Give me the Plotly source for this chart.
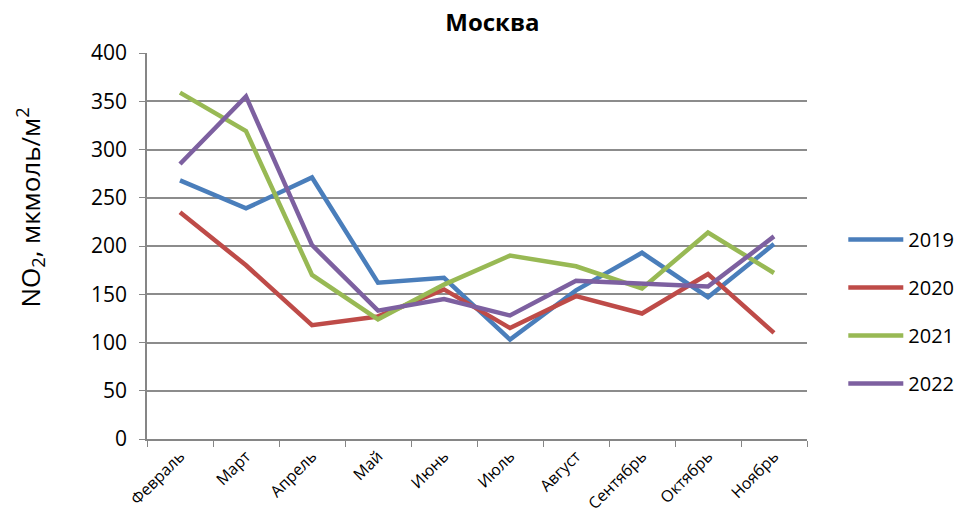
import plotly.graph_objects as go

months = ["Февраль", "Март", "Апрель", "Май", "Июнь", "Июль", "Август", "Сентябрь", "Октябрь", "Ноябрь"]
y2019 = [268, 239, 271, 162, 167, 103, 154, 193, 147, 202]
y2020 = [235, 180, 118, 127, 155, 115, 148, 130, 171, 110]
y2021 = [359, 319, 170, 124, 160, 190, 179, 156, 214, 172]
y2022 = [285, 355, 201, 133, 145, 128, 164, 161, 158, 210]
series_names = ["2019", "2020", "2021", "2022"]
colors = ["#4A7EBB", "#BE4B48", "#98B954", "#7D60A0"]

font_fam = "Open Sans, Liberation Sans, Arial"
fig = go.Figure()
for name, ys, c in zip(series_names, [y2019, y2020, y2021, y2022], colors):
    fig.add_trace(go.Scatter(x=months, y=ys, mode="lines", name=name, legendgroup=name,
                             line=dict(color=c, width=4.5)))

fig.update_layout(
    width=965, height=526,
    margin=dict(l=139, r=166, t=45, b=95),
    paper_bgcolor="white", plot_bgcolor="white",
    font=dict(family=font_fam, color="black"),
    title=dict(text="<b>Москва</b>", x=0.502, xanchor="center", y=0.972, yanchor="middle",
               font=dict(size=24, family=font_fam)),
    legend=dict(x=1.055, y=0.33, xanchor="left", yanchor="middle",
                font=dict(size=20), tracegroupgap=19, itemwidth=55),
    showlegend=True,
    annotations=[dict(text="NO<sub>2</sub>, мкмоль/м<sup>2</sup>", textangle=-90,
                      xref="paper", yref="paper", x=-0.177, y=0.6,
                      xanchor="center", yanchor="middle", showarrow=False,
                      font=dict(size=26))],
)
fig.update_xaxes(type="category", range=[-0.5, 9.5], tickson="boundaries",
                 ticks="outside", ticklen=6, tickcolor="#868686",
                 showline=True, linecolor="#868686", linewidth=1.5,
                 showgrid=False, tickangle=-45, tickfont=dict(size=16))
fig.update_yaxes(range=[0, 400], dtick=50, ticks="outside", ticklen=6, tickcolor="#868686",
                 showline=True, linecolor="#868686", linewidth=1.5,
                 showgrid=True, gridcolor="#8C8C8C", gridwidth=1.5, zeroline=False,
                 tickfont=dict(size=21), ticklabelstandoff=8)

fig.write_html("out.html")
